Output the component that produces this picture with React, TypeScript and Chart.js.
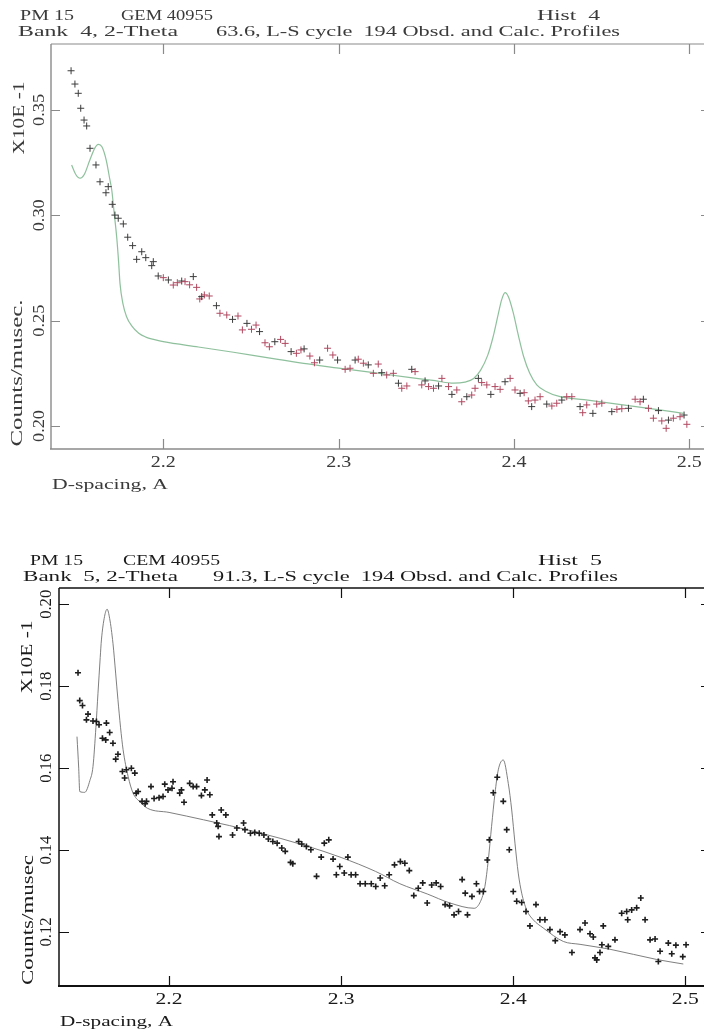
import React, { useEffect, useRef } from "react";
import { Chart, registerables } from "chart.js";
Chart.register(...registerables);

// ---------- DATA: Hist 4 ----------
const hist4ObsX = [
  2.1474, 2.1496, 2.1515, 2.1529, 2.1548, 2.1563, 2.1582, 2.1616, 2.1639, 2.1673, 2.1686, 2.1709, 2.1724, 2.1743,
  2.1772, 2.1797, 2.1825, 2.1848, 2.1877, 2.19, 2.1934, 2.1943, 2.1971, 2.2, 2.2029, 2.2057, 2.208, 2.2105, 2.2124,
  2.215, 2.2171, 2.219, 2.2208, 2.2219, 2.2234, 2.2262, 2.2303, 2.2323, 2.2362, 2.2395, 2.2426, 2.2451, 2.2477,
  2.2503, 2.2529, 2.2549, 2.258, 2.2605, 2.2636, 2.2669, 2.2695, 2.2729, 2.2759, 2.2785, 2.2803, 2.2836, 2.2862,
  2.2892, 2.2937, 2.2967, 2.2994, 2.3037, 2.3065, 2.3094, 2.3112, 2.3141, 2.3169, 2.3198, 2.3226, 2.3246, 2.3274,
  2.3312, 2.3341, 2.336, 2.3389, 2.3417, 2.3436, 2.3474, 2.3493, 2.3513, 2.3541, 2.357, 2.3589, 2.3627, 2.3646,
  2.3674, 2.3702, 2.3731, 2.3759, 2.3778, 2.3797, 2.3816, 2.3845, 2.3868, 2.3892, 2.3921, 2.3949, 2.3978, 2.4006,
  2.4035, 2.4058, 2.4082, 2.4101, 2.412, 2.4149, 2.4187, 2.4216, 2.4244, 2.4273, 2.4301, 2.433, 2.4377, 2.4392,
  2.4415, 2.445, 2.4472, 2.4501, 2.4558, 2.4587, 2.4615, 2.4653, 2.4691, 2.4719, 2.4738, 2.4767, 2.4795, 2.4824,
  2.4843, 2.4868, 2.4881, 2.4909, 2.4947, 2.497, 2.4986,
];
const hist4ObsY = [
  0.3686, 0.3623, 0.3579, 0.3508, 0.3452, 0.3424, 0.3318, 0.3239, 0.3159, 0.3107, 0.3136, 0.3052, 0.3001, 0.2986,
  0.2959, 0.2896, 0.2856, 0.2791, 0.2827, 0.2799, 0.2761, 0.278, 0.2712, 0.2704, 0.2693, 0.2669, 0.268, 0.2688, 0.2685,
  0.267, 0.2709, 0.2658, 0.2603, 0.2614, 0.2622, 0.2617, 0.2571, 0.2535, 0.2527, 0.2506, 0.2522, 0.2456, 0.2487,
  0.2459, 0.2479, 0.2448, 0.2395, 0.2376, 0.24, 0.2411, 0.2392, 0.2353, 0.2345, 0.2361, 0.2366, 0.2332, 0.23,
  0.2313, 0.2369, 0.2337, 0.2313, 0.2269, 0.2274, 0.2313, 0.2317, 0.2298, 0.229, 0.225, 0.2294, 0.2253, 0.2242,
  0.225, 0.2203, 0.2179, 0.219, 0.2269, 0.2258, 0.2195, 0.2214, 0.2187, 0.2179, 0.219, 0.2226, 0.2187, 0.215,
  0.2171, 0.2115, 0.2139, 0.2147, 0.2179, 0.2226, 0.2206, 0.2195, 0.215, 0.2187, 0.2174, 0.221, 0.2226, 0.2171,
  0.2155, 0.2158, 0.2119, 0.2092, 0.2123, 0.2139, 0.2104, 0.2095, 0.2108, 0.2123, 0.2139, 0.2139, 0.2092, 0.2063,
  0.21, 0.206, 0.2104, 0.2108, 0.2068, 0.2079, 0.2082, 0.2084, 0.2127, 0.2115, 0.2127, 0.2084, 0.2037, 0.2073,
  0.2024, 0.1989, 0.2028, 0.2037, 0.2044, 0.2052, 0.2008,
];
const hist4CalcX = [
  2.1477, 2.15, 2.1525, 2.155, 2.158, 2.161, 2.1629, 2.165, 2.1675, 2.1695, 2.1706, 2.172, 2.1734, 2.1745, 2.1753,
  2.177, 2.179, 2.182, 2.186, 2.19, 2.195, 2.2, 2.22, 2.24, 2.26, 2.28, 2.3, 2.32, 2.34, 2.355, 2.3655, 2.372, 2.377,
  2.381, 2.385, 2.388, 2.391, 2.393, 2.3949, 2.397, 2.3995, 2.4025, 2.4055, 2.409, 2.413, 2.418, 2.4263, 2.44, 2.46,
  2.48, 2.4966,
];
const hist4CalcY = [
  0.3239, 0.3195, 0.3176, 0.3195, 0.326, 0.332, 0.3337, 0.3325, 0.326, 0.317, 0.312, 0.301, 0.2898, 0.278, 0.2677,
  0.258, 0.252, 0.2475, 0.244, 0.2422, 0.241, 0.24, 0.2375, 0.235, 0.2323, 0.2297, 0.2275, 0.2253, 0.2231, 0.2215,
  0.2203, 0.2208, 0.2225, 0.2265, 0.2335, 0.242, 0.253, 0.26, 0.2633, 0.261, 0.254, 0.243, 0.233, 0.225, 0.2195,
  0.2165, 0.2139, 0.2125, 0.2103, 0.208, 0.206,
];
const hist4YTicks = [0.2, 0.25, 0.3, 0.35];
const hist4YTickLabels = ["0.20", "0.25", "0.30", "0.35"];

// ---------- DATA: Hist 5 ----------
const hist5ObsX = [
  2.1471, 2.1481, 2.1497, 2.152, 2.1529, 2.1558, 2.1578, 2.1593, 2.1613, 2.1632, 2.1636, 2.1655, 2.1674, 2.169,
  2.1703, 2.1729, 2.1742, 2.1752, 2.1781, 2.1801, 2.1809, 2.182, 2.1843, 2.1861, 2.1869, 2.1895, 2.1913, 2.1942,
  2.1965, 2.1975, 2.1994, 2.2017, 2.2023, 2.2062, 2.2072, 2.2087, 2.212, 2.214, 2.216, 2.2188, 2.2208, 2.2221,
  2.2237, 2.2251, 2.2277, 2.2285, 2.229, 2.2303, 2.233, 2.2369, 2.2394, 2.2433, 2.2441, 2.2473, 2.2498, 2.2524,
  2.2551, 2.2577, 2.2603, 2.2628, 2.2655, 2.2675, 2.2706, 2.2719, 2.2753, 2.2771, 2.2798, 2.2824, 2.2857, 2.2884,
  2.2902, 2.2928, 2.2953, 2.2972, 2.2992, 2.3018, 2.3039, 2.3058, 2.3084, 2.311, 2.314, 2.3175, 2.3201, 2.3227,
  2.3253, 2.3279, 2.331, 2.3344, 2.337, 2.3396, 2.3422, 2.3448, 2.3474, 2.35, 2.3526, 2.3552, 2.3578, 2.3604, 2.363,
  2.3656, 2.3682, 2.3703, 2.3721, 2.3734, 2.376, 2.3786, 2.3804, 2.3826, 2.3849, 2.3861, 2.3884, 2.3907, 2.3942,
  2.3962, 2.3977, 2.4, 2.402, 2.4049, 2.4074, 2.4097, 2.4132, 2.4155, 2.4184, 2.4213, 2.4244, 2.4272, 2.43, 2.4341,
  2.4388, 2.4417, 2.4446, 2.4465, 2.4475, 2.4485, 2.4504, 2.4515, 2.4523, 2.4552, 2.4591, 2.463, 2.4659, 2.4665,
  2.4688, 2.4717, 2.4741, 2.4766, 2.4795, 2.4824, 2.4843, 2.4853, 2.4901, 2.4921, 2.4945, 2.4985, 2.5004,
];
const hist5ObsY = [
  0.1833, 0.1765, 0.1753, 0.1718, 0.1732, 0.1715, 0.1714, 0.1706, 0.1673, 0.1669, 0.171, 0.1687, 0.1661, 0.1622,
  0.1634, 0.1592, 0.1576, 0.1596, 0.16, 0.1588, 0.1539, 0.1543, 0.1519, 0.1513, 0.1519, 0.1555, 0.1526, 0.1528,
  0.1531, 0.1561, 0.1547, 0.1551, 0.1567, 0.1539, 0.1547, 0.1517, 0.1563, 0.1555, 0.1555, 0.1533, 0.1547, 0.1571,
  0.1535, 0.1486, 0.1466, 0.1458, 0.1433, 0.1498, 0.1486, 0.1437, 0.1454, 0.1466, 0.145, 0.1441, 0.1443, 0.1441,
  0.1437, 0.1427, 0.1421, 0.1417, 0.1405, 0.1397, 0.137, 0.1367, 0.1421, 0.1415, 0.1409, 0.1401, 0.1336, 0.1383,
  0.1417, 0.1425, 0.1378, 0.134, 0.136, 0.1344, 0.1383, 0.134, 0.134, 0.1318, 0.1318, 0.1318, 0.1311, 0.1332,
  0.1313, 0.134, 0.1364, 0.1372, 0.1368, 0.135, 0.1289, 0.1307, 0.132, 0.1271, 0.1315, 0.132, 0.1311, 0.1267, 0.1264,
  0.1242, 0.125, 0.1328, 0.1295, 0.1242, 0.1287, 0.1318, 0.1299, 0.1299, 0.1376, 0.1425, 0.154, 0.1578, 0.1519,
  0.145, 0.1401, 0.1299, 0.1275, 0.1272, 0.125, 0.1215, 0.1267, 0.123, 0.123, 0.1206, 0.1179, 0.1201, 0.1193, 0.115,
  0.1206, 0.1222, 0.1196, 0.1188, 0.1137, 0.1132, 0.115, 0.1169, 0.1215, 0.1165, 0.1181, 0.1246, 0.125, 0.123,
  0.1254, 0.1259, 0.1283, 0.123, 0.1181, 0.1183, 0.1128, 0.1153, 0.1173, 0.1147, 0.1168, 0.114, 0.1169,
];
const hist5CalcX = [
  2.1465, 2.1475, 2.1481, 2.151, 2.154, 2.1558, 2.1575, 2.1587, 2.16, 2.1607, 2.1625, 2.164, 2.1655, 2.1674, 2.169,
  2.1703, 2.1718, 2.1733, 2.1762, 2.1791, 2.183, 2.1875, 2.2, 2.22, 2.25, 2.28, 2.3, 2.32, 2.3341, 2.35, 2.3632,
  2.3773, 2.381, 2.3835, 2.3855, 2.3874, 2.3894, 2.3913, 2.3942, 2.3971, 2.3991, 2.401, 2.4029, 2.4049, 2.4078,
  2.4116, 2.4174, 2.4291, 2.4388, 2.4562, 2.4834, 2.4988,
];
const hist5CalcY = [
  0.1677, 0.16, 0.1543, 0.1541, 0.157, 0.1604, 0.17, 0.1783, 0.187, 0.1913, 0.197, 0.1988, 0.1965, 0.1905, 0.183,
  0.1767, 0.17, 0.1645, 0.158, 0.1539, 0.1518, 0.1502, 0.1492, 0.1474, 0.1445, 0.141, 0.1382, 0.1348, 0.1318,
  0.1293, 0.1271, 0.1258, 0.1275, 0.1311, 0.1376, 0.1458, 0.1539, 0.1596, 0.162, 0.1563, 0.1498, 0.1417, 0.1344,
  0.1295, 0.1254, 0.123, 0.121, 0.1177, 0.117, 0.1158, 0.1133, 0.1122,
];
const hist5YTicks = [0.12, 0.14, 0.16, 0.18, 0.2];
const hist5YTickLabels = ["0.12", "0.14", "0.16", "0.18", "0.20"];

// shared x ticks
const xTicks = [2.2, 2.3, 2.4, 2.5];
const xTickLabels = ["2.2", "2.3", "2.4", "2.5"];

const FONT = '"Liberation Serif", "DejaVu Serif", serif';

function fitText(ctx: CanvasRenderingContext2D, text: string, x: number, y: number, w: number, size: number, align: string) {
  ctx.save();
  ctx.font = `${size}px ${FONT}`;
  const m = ctx.measureText(text).width || 1;
  const s = w / m;
  ctx.translate(align === "left" ? x : x - w / 2, y);
  ctx.scale(s, 1);
  ctx.textAlign = "left";
  ctx.textBaseline = "middle";
  ctx.fillText(text, 0, 0);
  ctx.restore();
}
function fitTextUp(ctx: CanvasRenderingContext2D, text: string, cx: number, cy: number, w: number, size: number) {
  ctx.save();
  ctx.translate(cx, cy);
  ctx.rotate(-Math.PI / 2);
  fitText(ctx, text, 0, 0, w, size, "center");
  ctx.restore();
}

type PanelCfg = {
  canvasTop: number;
  height: number;
  pad: { left: number; top: number; right: number; bottom: number };
  xMin: number; xMax: number; yMin: number; yMax: number;
  obsX: number[]; obsY: number[]; calcX: number[]; calcY: number[];
  yTicks: number[]; yTickLabels: string[];
  frameColor: string; textColor: string; leftW: number; bottomW: number; otherW: number;
  yTickLen: number; xTickLen: number;
  titles: { t: string; x: number; y: number; w: number; size: number }[];
  yLabelX: number; yLabelW: number; xLabelY: number; xLabelW: number; size: number;
  axisTexts: { t: string; x: number; y: number; w: number; size: number; up?: boolean }[];
  obsColor: (i: number, x: number) => string;
  obsRadius: number; obsWidth: number;
  calcColor: string; calcWidth: number;
};

const panel1: PanelCfg = {
  canvasTop: 0,
  height: 500,
  pad: { left: 51, top: 44, right: 10, bottom: 51 },
  xMin: 2.13595, xMax: 2.5118, yMin: 0.18908, yMax: 0.3813,
  obsX: hist4ObsX, obsY: hist4ObsY, calcX: hist4CalcX, calcY: hist4CalcY,
  yTicks: hist4YTicks, yTickLabels: hist4YTickLabels,
  frameColor: "#8a8a8a", textColor: "#3a3a3a", leftW: 1.4, bottomW: 1.6, otherW: 1.2,
  yTickLen: 9, xTickLen: 10,
  titles: [
    { t: "PM 15", x: 20, y: 16, w: 54, size: 14 },
    { t: "GEM 40955", x: 121, y: 16, w: 92, size: 14 },
    { t: "Hist  4", x: 537, y: 16, w: 63, size: 14 },
    { t: "Bank  4, 2-Theta", x: 18, y: 32, w: 160, size: 14 },
    { t: "63.6, L-S cycle  194 Obsd. and Calc. Profiles", x: 216, y: 32, w: 404, size: 14 },
  ],
  yLabelX: 40, yLabelW: 32, xLabelY: 463, xLabelW: 25, size: 16,
  axisTexts: [
    { t: "D-spacing, A", x: 52, y: 485, w: 116, size: 15 },
    { t: "Counts/musec.", x: 18, y: 373, w: 147, size: 16, up: true },
    { t: "X10E -1", x: 20, y: 118, w: 73, size: 16, up: true },
  ],
  obsColor: (i, x) => (x < 2.2 ? "#3c3c3c" : i % 3 === 0 ? "#3c3c3c" : "#b04860"),
  obsRadius: 3.5, obsWidth: 1,
  calcColor: "rgba(130,185,145,0.9)", calcWidth: 1.2,
};

const panel2: PanelCfg = {
  canvasTop: 540,
  height: 491,
  pad: { left: 59, top: 48, right: 9, bottom: 45 },
  xMin: 2.13605, xMax: 2.5149, yMin: 0.10683, yMax: 0.20398,
  obsX: hist5ObsX, obsY: hist5ObsY, calcX: hist5CalcX, calcY: hist5CalcY,
  yTicks: hist5YTicks, yTickLabels: hist5YTickLabels,
  frameColor: "#111", textColor: "#1a1a1a", leftW: 1.5, bottomW: 2, otherW: 1.3,
  yTickLen: 10, xTickLen: 10,
  titles: [
    { t: "PM 15", x: 30, y: 21, w: 53, size: 14 },
    { t: "CEM 40955", x: 123, y: 21, w: 97, size: 14 },
    { t: "Hist  5", x: 538, y: 21, w: 64, size: 14 },
    { t: "Bank  5, 2-Theta", x: 23, y: 37, w: 155, size: 14 },
    { t: "91.3, L-S cycle  194 Obsd. and Calc. Profiles", x: 213, y: 37, w: 405, size: 14 },
  ],
  yLabelX: 47, yLabelW: 29, xLabelY: 460, xLabelW: 27, size: 16,
  axisTexts: [
    { t: "D-spacing, A", x: 60, y: 482, w: 113, size: 15 },
    { t: "Counts/musec", x: 29, y: 380, w: 130, size: 16, up: true },
    { t: "X10E -1", x: 28, y: 117, w: 73, size: 16, up: true },
  ],
  obsColor: () => "#1e1e1e",
  obsRadius: 3, obsWidth: 1.6,
  calcColor: "#707070", calcWidth: 0.9,
};

function Panel({ cfg }: { cfg: PanelCfg }) {
  const ref = useRef<HTMLCanvasElement | null>(null);
  useEffect(() => {
    const canvas = ref.current;
    if (!canvas) return;
    const framePlugin = {
      id: "frame" + cfg.canvasTop,
      afterDraw(chart: any) {
        const ctx = chart.ctx as CanvasRenderingContext2D;
        const a = chart.chartArea;
        const xs = chart.scales.x;
        const ys = chart.scales.y;
        ctx.save();
        ctx.strokeStyle = cfg.frameColor;
        ctx.lineCap = "butt";
        ctx.lineWidth = cfg.otherW;
        ctx.beginPath();
        ctx.moveTo(a.left, a.top); ctx.lineTo(a.right, a.top); ctx.lineTo(a.right, a.bottom);
        ctx.stroke();
        ctx.lineWidth = cfg.leftW;
        ctx.beginPath(); ctx.moveTo(a.left, a.top); ctx.lineTo(a.left, a.bottom); ctx.stroke();
        ctx.lineWidth = cfg.bottomW;
        ctx.beginPath(); ctx.moveTo(a.left - 1, a.bottom); ctx.lineTo(a.right, a.bottom); ctx.stroke();
        ctx.lineWidth = 1.2;
        ctx.beginPath();
        xTicks.forEach((v) => {
          const px = Math.round(xs.getPixelForValue(v)) + 0.5;
          ctx.moveTo(px, a.bottom); ctx.lineTo(px, a.bottom - cfg.xTickLen);
          ctx.moveTo(px, a.top); ctx.lineTo(px, a.top + cfg.xTickLen);
        });
        cfg.yTicks.forEach((v) => {
          const py = Math.round(ys.getPixelForValue(v)) + 0.5;
          ctx.moveTo(a.left, py); ctx.lineTo(a.left + cfg.yTickLen, py);
          ctx.moveTo(a.right, py); ctx.lineTo(a.right - cfg.yTickLen, py);
        });
        ctx.stroke();
        ctx.fillStyle = cfg.textColor;
        xTicks.forEach((v, i) => {
          fitText(ctx, xTickLabels[i], xs.getPixelForValue(v), cfg.xLabelY, cfg.xLabelW, cfg.size, "center");
        });
        cfg.yTicks.forEach((v, i) => {
          fitTextUp(ctx, cfg.yTickLabels[i], cfg.yLabelX, ys.getPixelForValue(v), cfg.yLabelW, cfg.size);
        });
        cfg.titles.forEach((t) => fitText(ctx, t.t, t.x, t.y, t.w, t.size, "left"));
        cfg.axisTexts.forEach((t) => {
          if (t.up) fitTextUp(ctx, t.t, t.x, t.y, t.w, t.size);
          else fitText(ctx, t.t, t.x, t.y, t.w, t.size, "left");
        });
        ctx.restore();
      },
    };
    const chart = new Chart(canvas, {
      type: "scatter",
      data: {
        datasets: [
          {
            type: "line",
            label: "Calc",
            data: cfg.calcX.map((x, i) => ({ x, y: cfg.calcY[i] })),
            borderColor: cfg.calcColor,
            borderWidth: cfg.calcWidth,
            pointRadius: 0,
            fill: false,
            cubicInterpolationMode: "monotone",
            order: 2,
          } as any,
          {
            type: "scatter",
            label: "Obsd",
            data: cfg.obsX.map((x, i) => ({ x, y: cfg.obsY[i] })),
            pointStyle: "cross",
            pointRadius: cfg.obsRadius,
            pointBorderWidth: cfg.obsWidth,
            pointBorderColor: (c: any) => cfg.obsColor(c.dataIndex, cfg.obsX[c.dataIndex] ?? 0),
            pointBackgroundColor: "transparent",
            showLine: false,
            order: 1,
          } as any,
        ],
      },
      options: {
        responsive: false,
        animation: false,
        events: [],
        layout: { padding: cfg.pad },
        plugins: { legend: { display: false }, tooltip: { enabled: false }, title: { display: false } },
        scales: {
          x: { type: "linear", min: cfg.xMin, max: cfg.xMax, display: false },
          y: { type: "linear", min: cfg.yMin, max: cfg.yMax, display: false },
        },
      },
      plugins: [framePlugin],
    });
    return () => chart.destroy();
  }, [cfg]);
  return (
    <div style={{ position: "absolute", left: 0, top: cfg.canvasTop, width: 720, height: cfg.height }}>
      <canvas ref={ref} width={720} height={cfg.height} style={{ width: 720, height: cfg.height, display: "block" }} />
    </div>
  );
}

export default function App() {
  return (
    <div
      style={{
        position: "fixed",
        left: 0,
        top: 0,
        width: 704,
        height: 1031,
        overflow: "hidden",
        background: "#ffffff",
      }}
    >
      <Panel cfg={panel1} />
      <Panel cfg={panel2} />
    </div>
  );
}
